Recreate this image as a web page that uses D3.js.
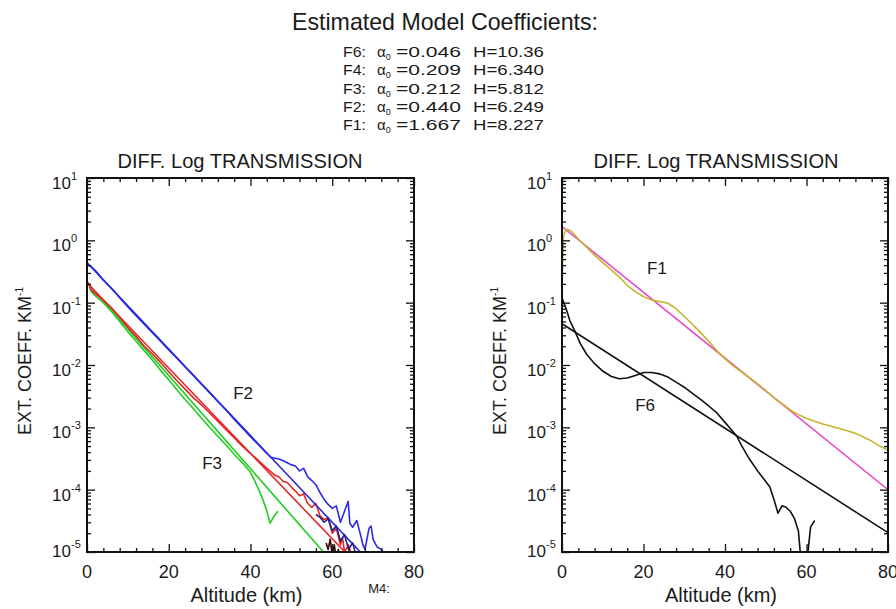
<!DOCTYPE html>
<html><head><meta charset="utf-8">
<script src="https://cdn.jsdelivr.net/npm/d3@7"></script>
<style>
body{margin:0;background:#fff}
svg{display:block}
text{font-family:"Liberation Sans",Arial,Helvetica,sans-serif;fill:#1a1a1a}
</style>
</head><body>
<svg id="c" width="896" height="609"></svg>
<script>
// ---------- DATA ----------
const titleText = "Estimated Model Coefficients:";
const coefNames = ["F6:", "F4:", "F3:", "F2:", "F1:"];
const coefAlpha = ["0.046", "0.209", "0.212", "0.440", "1.667"];
const coefH = ["10.36", "6.340", "5.812", "6.249", "8.227"];
const panelTitle = "DIFF. Log TRANSMISSION";
const xLabel = "Altitude (km)";
const yLabel = "EXT. COEFF. KM";
const xTicks = [0, 20, 40, 60, 80];
const yExps = [1, 0, -1, -2, -3, -4, -5];

// Left panel (altitude km, extinction km^-1)
const blueData = [[0,0.42],[1,0.38],[2,0.33],[4,0.23],[6,0.17],[8,0.12],[10,0.085],[12,0.062],[14,0.045],[16,0.033],[18,0.024],[20,0.0175],[22,0.0128],[24,0.0093],[26,0.0068],[28,0.0049],[30,0.0036],[32,0.0026],[34,0.0019],[36,0.00135],[38,0.00098],[40,0.00071],[42,0.00052],[44,0.00038],[45,0.00033],[46,0.00032],[47,0.00031],[48,0.00029],[49,0.00027],[50,0.00025],[51,0.00024],[52,0.0002],[53,0.00022],[54,0.00016],[55,0.00014],[56,0.00012],[57,0.00009],[58,0.00007],[59,0.000058],[60,0.00005],[61,0.000055],[62,0.00003],[63,0.000045],[63.9,0.000065],[64.3,0.000029],[65,0.000025],[66,0.000032],[67,0.000018],[67.5,0.000013],[68,0.000011],[69,0.000024],[69.5,0.000026],[70,0.000016],[71,0.000012],[72,0.000011],[73,0.000009]];
const blueFit = [[0,0.44],[72,0.0000044]];
const navyData = [[56,0.00004],[57,0.000036],[58,0.00003],[59,0.000034],[60,0.000022],[61,0.000026],[62,0.000015],[63,0.000019],[64,0.000011],[65,0.000014],[66,0.000008]];
const redData = [[0,0.22],[0.5,0.2],[1,0.16],[2,0.14],[4,0.11],[6,0.083],[8,0.058],[10,0.04],[12,0.029],[14,0.02],[16,0.015],[18,0.011],[20,0.0078],[22,0.0056],[24,0.0041],[26,0.003],[28,0.0023],[30,0.0017],[32,0.00125],[34,0.00092],[36,0.00068],[38,0.0005],[40,0.00038],[42,0.00029],[44,0.00022],[46,0.00017],[47,0.00016],[48,0.000135],[49,0.00013],[50,0.00011],[51,0.000095],[52,0.00008],[53,0.000085],[54,0.00006],[55,0.000052],[56,0.00006],[57,0.000038],[58,0.000033],[59,0.000036],[60,0.00002],[61,0.000024],[62,0.000013],[62.5,0.000017],[63,0.00001],[64,0.000013],[65,0.000007]];
const redFit = [[0,0.209],[65,0.0000074]];
const greenData = [[0,0.21],[0.5,0.19],[1,0.15],[2,0.13],[4,0.1],[6,0.072],[8,0.05],[10,0.034],[12,0.024],[14,0.017],[16,0.012],[18,0.0082],[20,0.0058],[22,0.004],[24,0.0028],[26,0.002],[28,0.0014],[30,0.001],[32,0.00072],[34,0.00052],[36,0.00037],[38,0.00027],[40,0.00019],[41,0.00014],[42,0.0001],[43,0.00007],[44,0.000045],[44.8,0.000029],[45.8,0.000038],[46.7,0.000045]];
const greenFit = [[0,0.212],[60,0.0000069]];
const darkBits = [[58.5,0.000014],[59,0.000011],[59.5,0.000016],[60,0.000009],[60.5,0.000013],[61,0.000008],[61.5,0.000011],[62,0.000007]];

// Right panel
const yellowData = [[0,0.15],[0.2,0.6],[0.4,1.2],[1,1.5],[2,1.45],[3,1.25],[4,1.05],[6,0.78],[8,0.58],[10,0.44],[12,0.34],[14,0.26],[16,0.19],[18,0.15],[20,0.125],[22,0.11],[24,0.104],[26,0.098],[28,0.08],[30,0.06],[32,0.045],[34,0.033],[36,0.024],[38,0.017],[40,0.0125],[42,0.0097],[44,0.0078],[46,0.0062],[48,0.005],[50,0.0039],[52,0.003],[54,0.0024],[56,0.0019],[58,0.0016],[60,0.0014],[62,0.00125],[64,0.00113],[66,0.00104],[68,0.00096],[70,0.00088],[72,0.0008],[74,0.0007],[76,0.0006],[78,0.0005],[80,0.00043]];
const magentaFit = [[0,1.667],[80,0.0000997]];
const blackData = [[0,0.12],[1,0.08],[2,0.05],[3,0.037],[4.5,0.022],[6,0.015],[8,0.0105],[10,0.008],[12,0.0066],[14,0.006],[16,0.0062],[18,0.0068],[20,0.0076],[22,0.0076],[24,0.0072],[26,0.0064],[28,0.0053],[30,0.0044],[32,0.0035],[34,0.0028],[36,0.0022],[38,0.0017],[40,0.0012],[42,0.00085],[43,0.0007],[44,0.00052],[46,0.00031],[48,0.0002],[50,0.000135],[51,0.00011],[52,0.00007],[53,0.000042],[54,0.000055],[55,0.000052],[56,0.000045],[57,0.000035],[58,0.000022],[58.6,0.000008],[59,0.000005],[59.8,0.000005],[60.2,0.000008],[61,0.000025],[62,0.000032]];
const blackFit = [[0,0.046],[80,0.0000204]];

// Curve labels (data coordinates)
const leftLabels = [{t:"F2", z:38.2, v:0.0035}, {t:"F3", z:30.6, v:0.00027}];
const rightLabels = [{t:"F1", z:23.3, v:0.36}, {t:"F6", z:20.4, v:0.0023}];

// ---------- DRAW ----------
const svg = d3.select("#c");
svg.append("rect").attr("width",896).attr("height",609).attr("fill","#fff");

// Title
svg.append("text").attr("x",292).attr("y",30).attr("font-size",24)
  .attr("textLength",306).attr("lengthAdjust","spacingAndGlyphs").text(titleText);

// Coefficient table
const rowY = d3.scalePoint().domain(coefNames).range([57,130]);
coefNames.forEach((n,i)=>{
  const yy = rowY(n);
  svg.append("text").attr("x",343).attr("y",yy).attr("font-size",15)
     .attr("textLength",23).attr("lengthAdjust","spacingAndGlyphs").text(n);
  const a = svg.append("text").attr("x",377).attr("y",yy).attr("font-size",15);
  a.append("tspan").text("\u03b1");
  a.append("tspan").attr("font-size",9).attr("dy",3).text("0");
  svg.append("text").attr("x",396).attr("y",yy).attr("font-size",15)
     .attr("textLength",65).attr("lengthAdjust","spacingAndGlyphs").text("=" + coefAlpha[i]);
  svg.append("text").attr("x",473).attr("y",yy).attr("font-size",15)
     .attr("textLength",71).attr("lengthAdjust","spacingAndGlyphs").text("H=" + coefH[i]);
});

const yTop = 178, yBot = 552;
const panels = [
  {x0:87, x1:414, titleX:240, series:[
     {d:greenData,c:"#22cc22"},{d:greenFit,c:"#22cc22"},
     {d:redData,c:"#e42626"},{d:redFit,c:"#e42626"},
     {d:blueFit,c:"#2a2ad8"},{d:navyData,c:"#22228a"},{d:blueData,c:"#2a2ae6"},
     {d:darkBits,c:"#300808"}], labels:leftLabels, m4:true},
  {x0:562, x1:888, titleX:716, series:[
     {d:blackFit,c:"#111"},{d:blackData,c:"#111"},
     {d:magentaFit,c:"#e84cc6"},{d:yellowData,c:"#c4b42e"}], labels:rightLabels, m4:false}
];

panels.forEach((p,pi)=>{
  const x = d3.scaleLinear().domain([0,80]).range([p.x0,p.x1]);
  const y = d3.scaleLog().domain([1e-5,10]).range([yBot,yTop]);
  const clipId = "clip"+pi;
  svg.append("clipPath").attr("id",clipId).append("rect")
     .attr("x",p.x0).attr("y",yTop).attr("width",p.x1-p.x0).attr("height",yBot-yTop);
  const g = svg.append("g").attr("clip-path",`url(#${clipId})`);
  const line = d3.line().x(d=>x(d[0])).y(d=>y(Math.max(d[1],1e-7)));
  p.series.forEach(s=>{
    g.append("path").attr("d",line(s.d)).attr("fill","none")
     .attr("stroke",s.c).attr("stroke-width",1.6).attr("stroke-linejoin","round");
  });

  // Axes: ticks inward on all four sides
  const minorX = d3.range(0,81,4).filter(v=>v%20!==0);
  const majorY = yExps.map(e=>Math.pow(10,e));
  const minorY = [];
  yExps.slice(1).forEach(e=>{ for(let k=2;k<10;k++) minorY.push(k*Math.pow(10,e)); });
  const ax = (axisFn, scale, vals, size, tr) => {
    const a = svg.append("g").attr("transform",tr)
      .call(axisFn(scale).tickValues(vals).tickSize(-size).tickSizeOuter(0).tickFormat(""));
    a.select(".domain").remove();
    a.selectAll("line").attr("stroke","#111").attr("stroke-width",1.3);
  };
  ax(d3.axisBottom, x, xTicks, 8, `translate(0,${yBot})`);
  ax(d3.axisBottom, x, minorX, 4, `translate(0,${yBot})`);
  ax(d3.axisTop, x, xTicks, 8, `translate(0,${yTop})`);
  ax(d3.axisTop, x, minorX, 4, `translate(0,${yTop})`);
  ax(d3.axisLeft, y, majorY, 8, `translate(${p.x0},0)`);
  ax(d3.axisLeft, y, minorY, 4, `translate(${p.x0},0)`);
  ax(d3.axisRight, y, majorY, 8, `translate(${p.x1},0)`);
  ax(d3.axisRight, y, minorY, 4, `translate(${p.x1},0)`);
  svg.append("rect").attr("x",p.x0).attr("y",yTop).attr("width",p.x1-p.x0).attr("height",yBot-yTop)
     .attr("fill","none").attr("stroke","#111").attr("stroke-width",2);

  // X tick labels
  xTicks.forEach(v=>{
    svg.append("text").attr("x",x(v)).attr("y",578).attr("font-size",18)
       .attr("text-anchor","middle").text(v);
  });
  // Y tick labels 10^e
  yExps.forEach((e,i)=>{
    const yy = y(Math.pow(10,e)) + (i===yExps.length-1 ? 5 : 11);
    svg.append("text").attr("x",p.x0-16).attr("y",yy).attr("font-size",17)
       .attr("text-anchor","end").text("10");
    svg.append("text").attr("x",p.x0-16).attr("y",yy-9).attr("font-size",11).text(e);
  });

  // Panel title
  svg.append("text").attr("x",p.titleX).attr("y",168).attr("font-size",20)
     .attr("text-anchor","middle").attr("textLength",245).attr("lengthAdjust","spacingAndGlyphs")
     .text(panelTitle);
  // X label
  svg.append("text").attr("x",(p.x0+p.x1)/2-4).attr("y",602).attr("font-size",20)
     .attr("text-anchor","middle").attr("textLength",112).attr("lengthAdjust","spacingAndGlyphs")
     .text(xLabel);
  // Y label
  const yl = svg.append("text").attr("transform",`translate(${p.x0-56},361) rotate(-90)`)
     .attr("font-size",18).attr("text-anchor","middle");
  yl.append("tspan").text(yLabel);
  yl.append("tspan").attr("font-size",10).attr("dy",-8).text("-1");
  // Curve labels
  p.labels.forEach(l=>{
    svg.append("text").attr("x",x(l.z)).attr("y",y(l.v)+6).attr("font-size",17)
       .attr("text-anchor","middle").attr("fill","#333").text(l.t);
  });
  if(p.m4){
    svg.append("text").attr("x",379).attr("y",593).attr("font-size",13)
       .attr("text-anchor","middle").attr("fill","#444").text("M4:");
  }
});
</script>
</body></html>
